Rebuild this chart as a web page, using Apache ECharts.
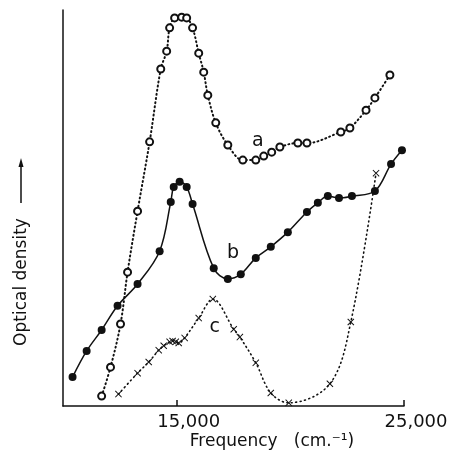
<!DOCTYPE html>
<html><head><meta charset="utf-8">
<script src="https://cdn.jsdelivr.net/npm/echarts@6/dist/echarts.min.js"></script>
<style>html,body{margin:0;padding:0;background:#fff}#c{width:457px;height:459px}</style>
</head><body><div id="c"></div>
<script>
// Curve a (open circles, dotted)
const freqA = [11700,12090,12530,12840,13280,13810,14300,14560,14690,14910,15220,15440,15700,15970,16190,16370,16720,17250,17910,18480,18830,19180,19540,20330,20730,22220,22620,23330,23720,24380];
const odA   = [2.5,9.8,20.7,33.8,49.2,66.7,85.1,89.6,95.5,98.0,98.2,98.0,95.5,89.1,84.3,78.5,71.5,65.9,62.1,62.1,63.1,64.1,65.4,66.4,66.4,69.2,70.2,74.7,77.8,83.6];
// Curve b (filled circles, solid)
const freqB = [10420,11040,11700,12400,13280,14250,14740,14870,15130,15440,15700,16630,17250,17820,18480,19140,19890,20730,21210,21650,22140,22710,23720,24430,24910];
const odB   = [7.3,13.9,19.2,25.3,30.8,39.1,51.5,55.3,56.6,55.3,51.0,34.8,32.1,33.3,37.4,40.2,43.9,49.0,51.3,53.0,52.5,53.0,54.3,61.1,64.6];
// Curve c (crosses, dotted)
const freqC = [12440,13280,13770,14210,14430,14690,14820,14960,15090,15350,15970,16590,17510,17780,18480,19140,19930,21740,22660,23770];
const odC   = [3.0,8.3,11.1,14.1,15.2,16.2,16.4,16.2,15.9,17.2,22.2,27.0,19.4,17.4,10.9,3.3,0.8,5.6,21.2,58.8];
// Tick labels
const xTicks = [15000, 25000];
const xTickLabels = ['15,000', '25,000'];
// Curve labels
const curveLabels = [
  {text: 'a', x: 18570, y: 67.0},
  {text: 'b', x: 17480, y: 38.6},
  {text: 'c', x: 16670, y: 19.9}
];

const zip = (xs, ys) => xs.map((x, i) => [x, ys[i]]);
const INK = '#111';
const FONT = 'DejaVu Sans';
const crossPath = 'path://M0,1L1,0L5,4L9,0L10,1L6,5L10,9L9,10L5,6L1,10L0,9L4,5Z';

const chart = echarts.init(document.getElementById('c'), null, {renderer: 'canvas'});
chart.setOption({
  backgroundColor: '#fff',
  animation: false,
  grid: {left: 63, right: 53, top: 10, bottom: 53},
  xAxis: {
    type: 'value', min: 10000, max: 25000,
    axisLine: {lineStyle: {color: INK, width: 1.5}},
    splitLine: {show: false},
    axisTick: {show: true, inside: true, length: 6, customValues: xTicks, lineStyle: {color: INK, width: 1.5}},
    axisLabel: {
      customValues: xTicks,
      formatter: v => xTickLabels[xTicks.indexOf(v)],
      color: INK, fontFamily: FONT, fontSize: 18, margin: 7,
      padding: [0, 0, 0, 24]
    }
  },
  yAxis: {
    type: 'value', min: 0, max: 100,
    axisLine: {show: true, lineStyle: {color: INK, width: 1.5}},
    axisTick: {show: false}, axisLabel: {show: false}, splitLine: {show: false}
  },
  series: [
    {
      type: 'line', data: zip(freqA, odA), smooth: 0.35, clip: false,
      symbol: 'emptyCircle', symbolSize: 7, showAllSymbol: true,
      itemStyle: {color: INK, borderWidth: 1.3},
      lineStyle: {color: INK, width: 2, type: [1, 3.2], cap: 'round'},
      z: 2
    },
    {
      type: 'line', data: zip(freqB, odB), smooth: 0.35, clip: false,
      symbol: 'circle', symbolSize: 8,
      itemStyle: {color: INK},
      lineStyle: {color: INK, width: 1.5},
      z: 3
    },
    {
      type: 'line', data: zip(freqC, odC), smooth: 0.35, clip: false,
      symbol: crossPath, symbolSize: 7,
      itemStyle: {color: INK},
      lineStyle: {color: INK, width: 1.6, type: [1, 3.5], cap: 'round'},
      z: 2
    }
  ]
});

const g = [];
curveLabels.forEach(l => {
  const p = chart.convertToPixel({gridIndex: 0}, [l.x, l.y]);
  g.push({type: 'text', x: p[0], y: p[1], style: {text: l.text, fill: INK, font: '19px ' + FONT, textAlign: 'center', textVerticalAlign: 'middle'}});
});
g.push({type: 'text', x: 272, y: 442, style: {text: 'Frequency   (cm.\u207B\u00B9)', fill: INK, font: '17px ' + FONT, textAlign: 'center', textVerticalAlign: 'middle'}});
g.push({type: 'text', x: 22, y: 282, rotation: Math.PI / 2, style: {text: 'Optical density', fill: INK, font: '17px ' + FONT, textAlign: 'center', textVerticalAlign: 'middle'}});
g.push({type: 'line', shape: {x1: 21, y1: 203, x2: 21, y2: 165}, style: {stroke: INK, lineWidth: 1.5}});
g.push({type: 'polygon', shape: {points: [[21, 158], [18.5, 167], [23.5, 167]]}, style: {fill: INK}});
chart.setOption({graphic: g});
</script>
</body></html>
